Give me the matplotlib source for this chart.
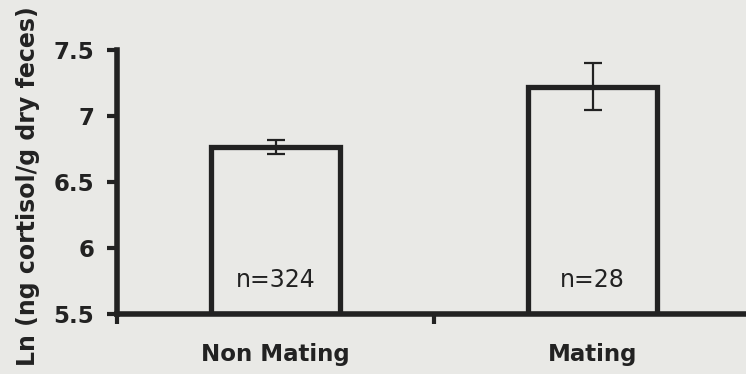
import numpy as np
import matplotlib
matplotlib.use("Agg")
import matplotlib.pyplot as plt

categories = ["Non Mating", "Mating"]
means = [6.765, 7.222]
errors = [0.053, 0.178]
n_labels = ["n=324", "n=28"]
yticks = [5.5, 6, 6.5, 7, 7.5]
ytick_labels = ["5.5", "6", "6.5", "7", "7.5"]
ylabel = "Ln (ng cortisol/g dry feces)"

bg = "#e9e9e6"
ink = "#222222"

W, H = 746, 374
fig = plt.figure(figsize=(W / 100, H / 100), dpi=100, facecolor=bg)
ax = fig.add_axes([117 / W, 60 / H, 634 / W, 264 / H])
ax.set_facecolor(bg)

x = np.arange(len(categories))
ymin, ymax = yticks[0], yticks[-1]
ax.bar(x, np.array(means) - ymin, bottom=ymin, width=0.41,
       facecolor=bg, edgecolor=ink, linewidth=3.8, zorder=2)
ax.errorbar(x, means, yerr=errors, fmt="none", ecolor=ink,
            elinewidth=1.6, capsize=6.5, capthick=1.6, zorder=3)

for xi, lab in zip(x, n_labels):
    ax.annotate(lab, (xi, ymin), xytext=(0, 19.5), textcoords="offset points",
                ha="center", va="baseline", fontsize=17, color=ink, zorder=4)

ax.set_xlim(-0.5, len(categories) - 0.5)
ax.set_ylim(ymin, ymax)

for s in ["top", "right"]:
    ax.spines[s].set_visible(False)
for s in ["left", "bottom"]:
    ax.spines[s].set_linewidth(4.0)
    ax.spines[s].set_color(ink)
    ax.spines[s].set_capstyle("projecting")

ax.set_yticks(yticks)
ax.set_yticklabels(ytick_labels, fontsize=16.5, fontweight="bold", color=ink)
ax.tick_params(axis="y", direction="out", length=7.5, width=3.0, color=ink, pad=9)

ax.set_xticks(np.arange(len(categories) + 1) - 0.5)
ax.set_xticklabels([])
ax.set_xticks(x, minor=True)
ax.set_xticklabels(categories, minor=True, fontsize=16.5, fontweight="bold", color=ink)
ax.tick_params(axis="x", which="major", direction="out", length=7.5, width=3.0, color=ink)
ax.tick_params(axis="x", which="minor", length=0, pad=21)

fig.text(28 / W, 1 - 186 / H, ylabel, rotation=90, ha="center", va="center",
         fontsize=17, fontweight="bold", color=ink)

fig.savefig("out.png", dpi=100, facecolor=bg)
